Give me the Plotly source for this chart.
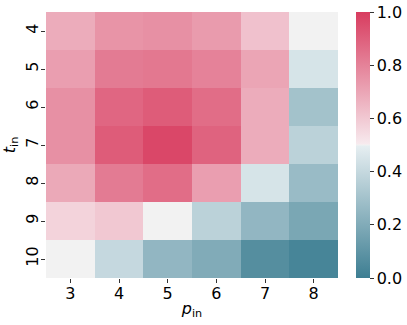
import plotly.graph_objects as go

# p_in on x, t_in on y (top to bottom)
p_in = ["3", "4", "5", "6", "7", "8"]
t_in = ["4", "5", "6", "7", "8", "9", "10"]

# one row per t_in value, columns follow p_in
scores = [
    [0.68, 0.75, 0.76, 0.73, 0.62, 0.50],
    [0.72, 0.82, 0.83, 0.80, 0.70, 0.45],
    [0.76, 0.88, 0.91, 0.86, 0.68, 0.30],
    [0.76, 0.91, 0.97, 0.89, 0.68, 0.37],
    [0.69, 0.82, 0.86, 0.72, 0.45, 0.27],
    [0.57, 0.60, 0.50, 0.37, 0.25, 0.18],
    [0.50, 0.40, 0.25, 0.20, 0.07, 0.03],
]

# seaborn style diverging palette (220 -> light -> 0)
div_scale = [
    [0.0, "rgb(61,126,146)"],
    [0.496, "rgb(230,238,241)"],
    [0.5, "rgb(242,242,242)"],
    [0.504, "rgb(247,234,238)"],
    [1.0, "rgb(216,60,95)"],
]

fig = go.Figure()
fig.add_trace(go.Heatmap(
    x=p_in,
    y=t_in,
    z=scores,
    zmin=0, zmax=1,
    colorscale=div_scale,
    colorbar=dict(
        x=1.0616, xanchor="left", xref="paper", xpad=0,
        y=0.5, yanchor="middle", ypad=0,
        len=1, lenmode="fraction",
        thickness=14,
        outlinewidth=0,
        tickvals=[0, 0.2, 0.4, 0.6, 0.8, 1.0],
        ticktext=["0.0", "0.2", "0.4", "0.6", "0.8", "1.0"],
        ticks="outside", ticklen=4, tickwidth=1, tickcolor="#333",
        ticklabeloverflow="allow",
        tickfont=dict(family="DejaVu Sans", size=16, color="black"),
    ),
))

fig.update_layout(
    width=407, height=325,
    margin=dict(l=46, r=69, t=12, b=47, autoexpand=False),
    paper_bgcolor="white",
    plot_bgcolor="white",
    font=dict(family="DejaVu Sans", size=16, color="black"),
    xaxis=dict(
        type="category",
        ticks="outside", ticklen=4, tickcolor="#333",
        ticklabelstandoff=-3,
        showgrid=False, zeroline=False, showline=False,
        title=dict(text="<i>p</i><sub>in</sub>", standoff=0, font=dict(size=16)),
    ),
    yaxis=dict(
        type="category",
        autorange="reversed",
        ticks="outside", ticklen=4, tickcolor="#333",
        ticklabelstandoff=-3,
        tickangle=-90,
        showgrid=False, zeroline=False, showline=False,
        title=dict(text="<i>t</i><sub>in</sub>", standoff=6, font=dict(size=16)),
    ),
)

# drop the default 8px body margin so the figure fills the window
fig.write_html(
    "out.html",
    config={"displayModeBar": False},
    post_script="document.body.style.margin = '0';",
)
